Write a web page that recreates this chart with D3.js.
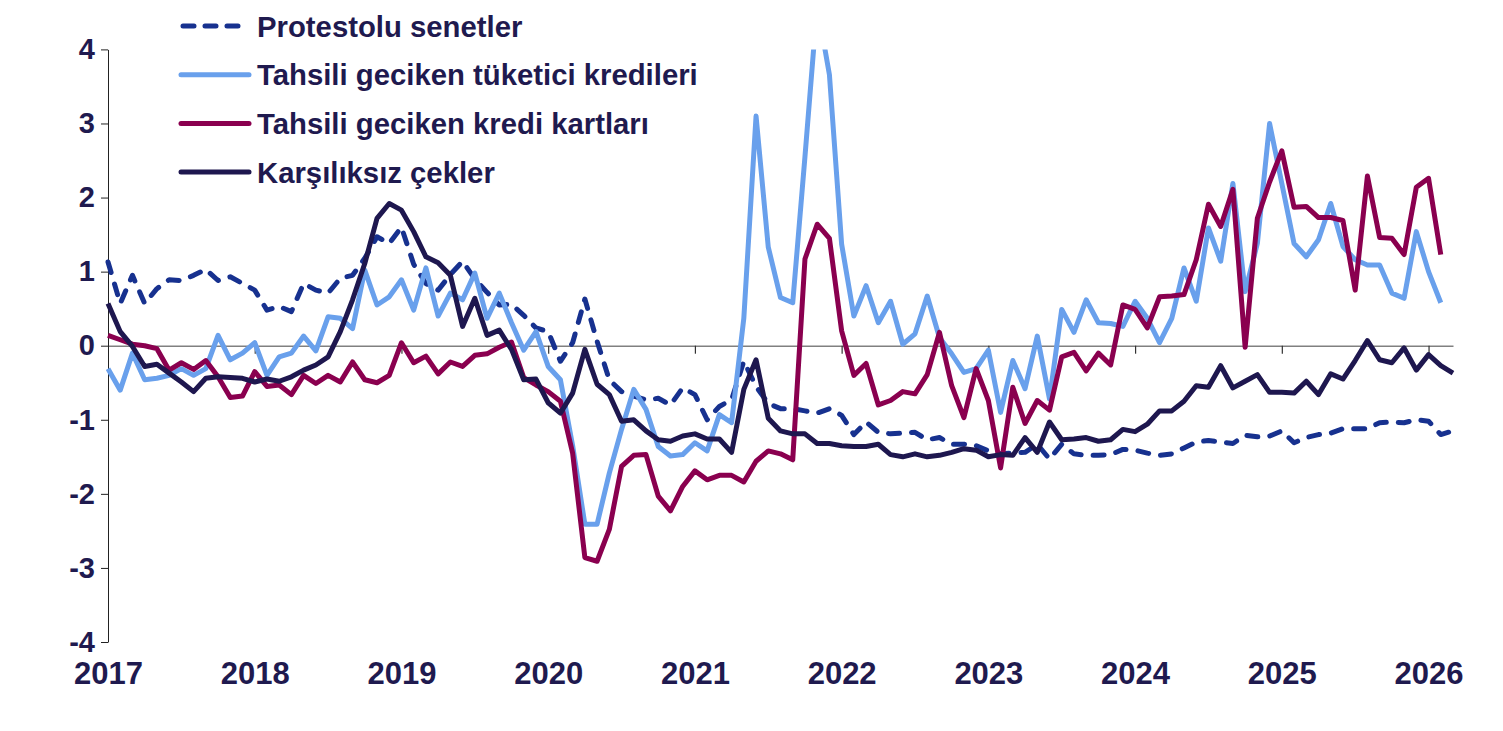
<!DOCTYPE html>
<html>
<head>
<meta charset="utf-8">
<script src="https://cdn.jsdelivr.net/npm/d3@7"></script>
<style>
  body { margin: 0; background: #fff; }
  svg { display: block; font-family: "Liberation Sans", Arial, sans-serif; }
</style>
</head>
<body>
<script>
// monthly series, first point = Jan 2017
var yearLabels = ["2017", "2018", "2019", "2020", "2021", "2022", "2023", "2024", "2025", "2026"];
var yTicks = [-4, -3, -2, -1, 0, 1, 2, 3, 4];
var seriesNames = ["Protestolu senetler", "Tahsili geciken tüketici kredileri", "Tahsili geciken kredi kartları", "Karşılıksız çekler"];

var protesto = [1.13, 0.57, 0.95, 0.57, 0.77, 0.89, 0.88, 0.95, 1.03, 0.88, 0.93, 0.84,
  0.75, 0.48, 0.53, 0.46, 0.84, 0.75, 0.71, 0.91, 0.95, 1.18, 1.47, 1.38,
  1.60, 1.10, 0.84, 0.75, 0.96, 1.14, 0.90, 0.72, 0.55, 0.56, 0.41, 0.24,
  0.19, -0.21, 0.04, 0.63, 0.06, -0.46, -0.62, -0.68, -0.73, -0.71, -0.80, -0.57,
  -0.66, -1.00, -0.82, -0.73, -0.21, -0.55, -0.78, -0.85, -0.85, -0.88, -0.91, -0.85,
  -0.94, -1.20, -1.03, -1.17, -1.19, -1.18, -1.17, -1.27, -1.24, -1.33, -1.33, -1.35,
  -1.42, -1.46, -1.45, -1.44, -1.33, -1.53, -1.33, -1.46, -1.48, -1.48, -1.47, -1.40,
  -1.41, -1.45, -1.48, -1.46, -1.38, -1.30, -1.28, -1.30, -1.32, -1.21, -1.23, -1.22,
  -1.15, -1.31, -1.24, -1.20, -1.18, -1.12, -1.12, -1.12, -1.04, -1.03, -1.04, -1.00,
  -1.02, -1.20, -1.15];

var tuketici = [-0.31, -0.60, -0.10, -0.46, -0.44, -0.40, -0.31, -0.40, -0.31, 0.14, -0.19, -0.10,
  0.04, -0.40, -0.15, -0.10, 0.13, -0.07, 0.39, 0.37, 0.23, 1.02, 0.55, 0.66,
  0.89, 0.48, 1.05, 0.40, 0.71, 0.62, 0.98, 0.37, 0.71, 0.31, -0.06, 0.19,
  -0.28, -0.46, -1.35, -2.41, -2.41, -1.72, -1.13, -0.59, -0.86, -1.36, -1.49, -1.47,
  -1.31, -1.42, -0.93, -1.04, 0.37, 3.10, 1.33, 0.65, 0.58, 2.55, 4.60, 3.66,
  1.37, 0.40, 0.81, 0.31, 0.60, 0.02, 0.16, 0.67, 0.11, -0.11, -0.36, -0.31,
  -0.06, -0.90, -0.20, -0.58, 0.13, -0.72, 0.49, 0.18, 0.62, 0.31, 0.30, 0.26,
  0.60, 0.37, 0.04, 0.37, 1.05, 0.60, 1.59, 1.14, 2.19, 0.73, 1.38, 3.00,
  2.19, 1.38, 1.20, 1.43, 1.92, 1.34, 1.16, 1.09, 1.09, 0.71, 0.64, 1.54,
  1.00, 0.58];

var kart = [0.14, 0.08, 0.02, 0.00, -0.04, -0.33, -0.23, -0.32, -0.20, -0.42, -0.70, -0.68,
  -0.35, -0.55, -0.53, -0.66, -0.40, -0.51, -0.40, -0.49, -0.22, -0.46, -0.50, -0.40,
  0.04, -0.23, -0.14, -0.38, -0.22, -0.28, -0.13, -0.11, -0.02, 0.05, -0.43, -0.53,
  -0.62, -0.75, -1.45, -2.86, -2.91, -2.48, -1.63, -1.48, -1.47, -2.03, -2.23, -1.90,
  -1.69, -1.81, -1.75, -1.75, -1.84, -1.56, -1.42, -1.46, -1.54, 1.17, 1.64, 1.45,
  0.20, -0.40, -0.24, -0.80, -0.74, -0.62, -0.65, -0.39, 0.18, -0.54, -0.97, -0.31,
  -0.74, -1.65, -0.56, -1.05, -0.74, -0.87, -0.15, -0.09, -0.34, -0.10, -0.26, 0.55,
  0.49, 0.24, 0.66, 0.67, 0.69, 1.16, 1.91, 1.61, 2.11, -0.02, 1.72, 2.21,
  2.63, 1.87, 1.88, 1.73, 1.73, 1.69, 0.75, 2.29, 1.46, 1.45, 1.23, 2.14,
  2.26, 1.23];

var cek = [0.57, 0.19, -0.01, -0.28, -0.25, -0.37, -0.49, -0.62, -0.44, -0.42, -0.43, -0.44,
  -0.49, -0.45, -0.48, -0.42, -0.33, -0.26, -0.15, 0.19, 0.62, 1.11, 1.72, 1.92,
  1.83, 1.54, 1.20, 1.12, 0.95, 0.26, 0.64, 0.14, 0.21, -0.05, -0.46, -0.45,
  -0.77, -0.91, -0.64, -0.05, -0.52, -0.66, -1.02, -1.00, -1.15, -1.27, -1.29, -1.22,
  -1.19, -1.26, -1.26, -1.44, -0.59, -0.19, -0.98, -1.15, -1.19, -1.19, -1.32, -1.32,
  -1.35, -1.36, -1.36, -1.33, -1.47, -1.50, -1.46, -1.50, -1.48, -1.44, -1.39, -1.41,
  -1.50, -1.47, -1.48, -1.24, -1.44, -1.03, -1.27, -1.26, -1.24, -1.29, -1.27, -1.13,
  -1.16, -1.06, -0.88, -0.88, -0.75, -0.54, -0.56, -0.27, -0.57, -0.48, -0.39, -0.63,
  -0.63, -0.64, -0.48, -0.66, -0.38, -0.45, -0.20, 0.07, -0.19, -0.23, -0.03, -0.33,
  -0.12, -0.27, -0.37];

var colors = { protesto: "#17318f", tuketici: "#69a0ec", kart: "#8a004f", cek: "#1e174f" };
var textColor = "#1f1a4f";

var W = 1503, H = 731;
var svg = d3.select("body").append("svg").attr("width", W).attr("height", H);
svg.append("rect").attr("width", W).attr("height", H).attr("fill", "#fff");

var x = d3.scaleLinear().domain([0, 110]).range([108, 1453]);
var y = d3.scaleLinear().domain([-4, 4]).range([642, 49.4]);

svg.append("defs").append("clipPath").attr("id", "plotClip")
  .append("rect").attr("x", 90).attr("y", y(4)).attr("width", 1400).attr("height", 640);

// zero line with year ticks
var yearIdx = yearLabels.map(function(d, i) { return i * 12; });
var zeroAxis = svg.append("g")
  .attr("transform", "translate(0," + y(0) + ")")
  .call(d3.axisBottom(x).tickValues(yearIdx.slice(1)).tickSize(8).tickSizeOuter(0).tickFormat(""));
zeroAxis.select(".domain").attr("stroke", "#808080").attr("stroke-width", 1.5);
zeroAxis.selectAll(".tick line").attr("stroke", "#333").attr("stroke-width", 1.2);

// y axis
var yAxis = svg.append("g")
  .attr("transform", "translate(108,0)")
  .call(d3.axisLeft(y).tickValues(yTicks).tickSize(7).tickSizeOuter(0).tickPadding(6)
    .tickFormat(function(d) { return String(d); }));
yAxis.select(".domain").attr("stroke", "#222").attr("stroke-width", 1);
yAxis.selectAll(".tick line").attr("stroke", "#222");
yAxis.selectAll(".tick text")
  .attr("font-size", 29).attr("font-weight", "bold").attr("fill", textColor)
  .attr("font-family", "Liberation Sans, Arial, sans-serif");

// year labels along the bottom
var xLab = svg.append("g")
  .attr("transform", "translate(0,662)")
  .call(d3.axisBottom(x).tickValues(yearIdx).tickSize(0).tickPadding(0)
    .tickFormat(function(d, i) { return yearLabels[i]; }));
xLab.select(".domain").remove();
xLab.selectAll(".tick text")
  .attr("font-size", 31).attr("font-weight", "bold").attr("fill", textColor)
  .attr("font-family", "Liberation Sans, Arial, sans-serif")
  .attr("dy", "0.71em");

var line = d3.line()
  .x(function(d, i) { return x(i); })
  .y(function(d) { return y(d); });

var lines = svg.append("g").attr("clip-path", "url(#plotClip)");
var dashes = "11,12";

lines.append("path").datum(protesto)
  .attr("d", line).attr("fill", "none")
  .attr("stroke", colors.protesto).attr("stroke-width", 5)
  .attr("stroke-dasharray", dashes).attr("stroke-linecap", "round").attr("stroke-linejoin", "round");
lines.append("path").datum(tuketici)
  .attr("d", line).attr("fill", "none")
  .attr("stroke", colors.tuketici).attr("stroke-width", 5).attr("stroke-linejoin", "round");
lines.append("path").datum(kart)
  .attr("d", line).attr("fill", "none")
  .attr("stroke", colors.kart).attr("stroke-width", 5).attr("stroke-linejoin", "round");
lines.append("path").datum(cek)
  .attr("d", line).attr("fill", "none")
  .attr("stroke", colors.cek).attr("stroke-width", 5).attr("stroke-linejoin", "round");

// legend
var legendRows = [
  { name: seriesNames[0], color: colors.protesto, dash: true },
  { name: seriesNames[1], color: colors.tuketici },
  { name: seriesNames[2], color: colors.kart },
  { name: seriesNames[3], color: colors.cek }
];
var legend = svg.append("g");
legendRows.forEach(function(r, i) {
  var cy = 26 + i * 48.7;
  legend.append("line")
    .attr("x1", r.dash ? 183 : 181).attr("x2", 249).attr("y1", cy).attr("y2", cy)
    .attr("stroke", r.color).attr("stroke-width", 5)
    .attr("stroke-linecap", "round")
    .attr("stroke-dasharray", r.dash ? "11,11" : null);
  legend.append("text")
    .attr("x", 257).attr("y", cy + 10.5)
    .attr("font-size", 29.3).attr("font-weight", "bold").attr("fill", textColor)
    .text(r.name);
});
</script>
</body>
</html>
